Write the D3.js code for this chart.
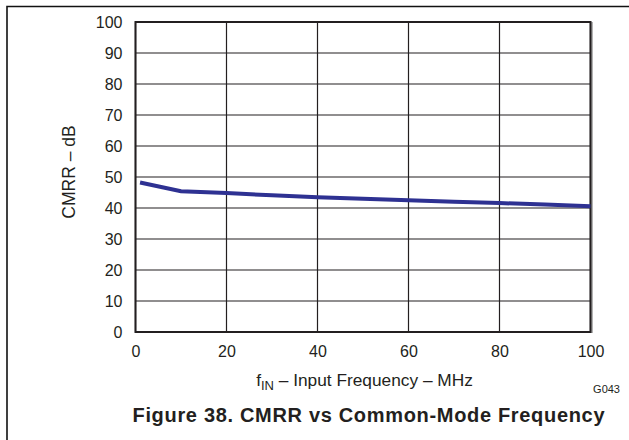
<!DOCTYPE html>
<html>
<head>
<meta charset="utf-8">
<script src="https://cdn.jsdelivr.net/npm/d3@7"></script>
<style>
  body { margin: 0; background: #fff; }
  text { font-family: "Liberation Sans", Arial, sans-serif; fill: #231f20; }
</style>
</head>
<body>
<div id="chart"></div>
<script>
// data
const freqs = [1, 10, 20, 30, 40, 50, 60, 70, 80, 90, 100];
const cmrr = [48.2, 45.4, 44.8, 44.1, 43.5, 43.0, 42.5, 42.0, 41.6, 41.1, 40.6];
const xTicks = [0, 20, 40, 60, 80, 100];
const yTicks = [0, 10, 20, 30, 40, 50, 60, 70, 80, 90, 100];

let margin = { left: 135.5, right: 38.5, top: 22, bottom: 108 };
let width = 629 - margin.left - margin.right;
let height = 440 - margin.top - margin.bottom;

let svg = d3.select("#chart")
  .append("svg")
  .attr("width", 629)
  .attr("height", 440);

// outer figure frame (open at right/bottom as in the scan)
svg.append("path")
  .attr("d", "M7,440 V6.5 H629")
  .attr("fill", "none")
  .attr("stroke", "#111")
  .attr("stroke-width", 1.6);

let g = svg.append("g")
  .attr("transform", "translate(" + margin.left + "," + margin.top + ")");

let x = d3.scaleLinear().domain([0, 100]).range([0, width]);
let y = d3.scaleLinear().domain([0, 100]).range([height, 0]);

// grid
g.selectAll(".vgrid")
  .data(xTicks)
  .enter()
  .append("line")
  .attr("x1", d => x(d)).attr("x2", d => x(d))
  .attr("y1", 0).attr("y2", height)
  .attr("stroke", "#231f20")
  .attr("stroke-width", 1.2);

g.selectAll(".hgrid")
  .data(yTicks)
  .enter()
  .append("line")
  .attr("x1", 0).attr("x2", width)
  .attr("y1", d => y(d)).attr("y2", d => y(d))
  .attr("stroke", "#231f20")
  .attr("stroke-width", 1.2);

// shadow on right edge + frame
g.append("line")
  .attr("x1", width + 1.5).attr("x2", width + 1.5)
  .attr("y1", 0).attr("y2", height + 1)
  .attr("stroke", "#9a9a9a")
  .attr("stroke-width", 1.5);
g.append("rect")
  .attr("width", width).attr("height", height)
  .attr("fill", "none")
  .attr("stroke", "#231f20")
  .attr("stroke-width", 2);

// axes (labels only)
let xAxis = d3.axisBottom(x).tickValues(xTicks).tickSize(0).tickPadding(10);
let yAxis = d3.axisLeft(y).tickValues(yTicks).tickSize(0).tickPadding(13);

let xg = g.append("g").attr("transform", "translate(0," + height + ")").call(xAxis);
let yg = g.append("g").call(yAxis);
[xg, yg].forEach(a => {
  a.select(".domain").remove();
  a.selectAll("text")
    .style("font-size", "16px")
    .style("font-family", '"Liberation Sans", Arial, sans-serif')
    .attr("fill", "#231f20");
});
xg.selectAll("text").attr("dy", "0.95em");

// curve
let line = d3.line()
  .x((d, i) => x(freqs[i]))
  .y(d => y(d));

g.append("path")
  .datum(cmrr)
  .attr("d", line)
  .attr("fill", "none")
  .attr("stroke", "#2e3192")
  .attr("stroke-width", 4);

// labels
svg.append("text")
  .attr("transform", "translate(75,172) rotate(-90)")
  .attr("text-anchor", "middle")
  .style("font-size", "17.5px")
  .text("CMRR – dB");

let xl = svg.append("text")
  .attr("x", 364.5)
  .attr("y", 386)
  .attr("text-anchor", "middle")
  .style("font-size", "17.3px");
xl.append("tspan").text("f");
xl.append("tspan").attr("dy", 4).style("font-size", "13px").text("IN");
xl.append("tspan").attr("dy", -4).text(" – Input Frequency – MHz");

svg.append("text")
  .attr("x", 620)
  .attr("y", 393)
  .attr("text-anchor", "end")
  .style("font-size", "11px")
  .text("G043");

svg.append("text")
  .attr("x", 132.5)
  .attr("y", 422)
  .attr("textLength", 472)
  .attr("lengthAdjust", "spacing")
  .style("font-size", "20px")
  .style("font-weight", "bold")
  .text("Figure 38. CMRR vs Common-Mode Frequency");
</script>
</body>
</html>
